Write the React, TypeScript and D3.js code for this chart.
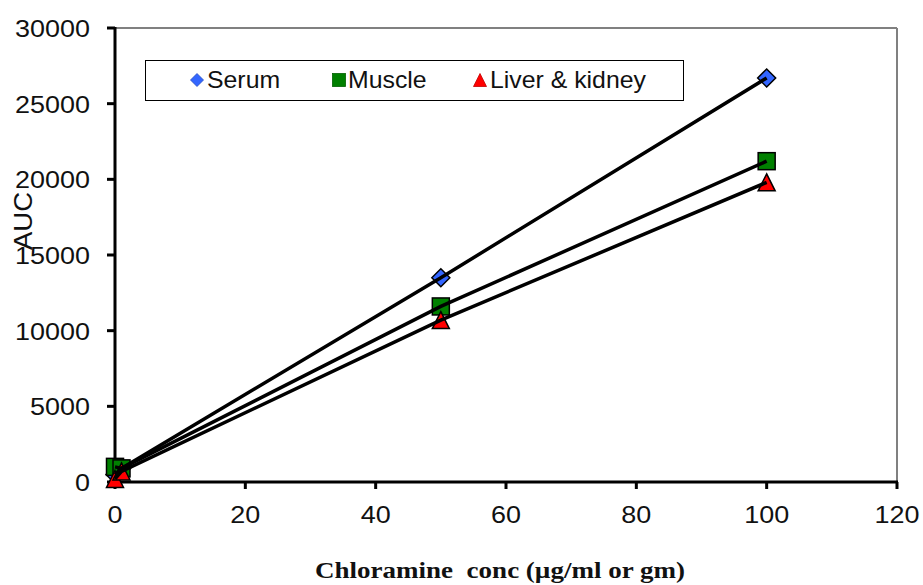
import React from 'react'
import * as d3 from "d3";

const concentrations = [0, 1, 50, 100]
const serumAUC = [500, 900, 13500, 26700]
const muscleAUC = [1000, 900, 11600, 21200]
const liverAUC = [200, 700, 10700, 19800]
const seriesNames = ["Serum", "Muscle", "Liver & kidney"]
const xTicks = [0, 20, 40, 60, 80, 100, 120]
const yTicks = [0, 5000, 10000, 15000, 20000, 25000, 30000]

interface Series {
  name: string;
  values: number[];
  color: string;
  shape: "diamond" | "square" | "triangle";
}

const series: Series[] = [
  { name: seriesNames[0], values: serumAUC, color: "#3366ff", shape: "diamond" },
  { name: seriesNames[1], values: muscleAUC, color: "#008000", shape: "square" },
  { name: seriesNames[2], values: liverAUC, color: "#ff0000", shape: "triangle" },
]

const Marker = ({ shape, x, y, size, fill, stroke, strokeWidth }: {
  shape: string; x: number; y: number; size: number; fill: string; stroke: string; strokeWidth: number
}) => {
  const h = size / 2
  if (shape === "diamond") {
    return <path d={`M${x},${y - h}L${x + h},${y}L${x},${y + h}L${x - h},${y}Z`} fill={fill} stroke={stroke} strokeWidth={strokeWidth} />
  }
  if (shape === "square") {
    return <rect x={x - h} y={y - h} width={size} height={size} fill={fill} stroke={stroke} strokeWidth={strokeWidth} />
  }
  return <path d={`M${x},${y - h}L${x + h},${y + h}L${x - h},${y + h}Z`} fill={fill} stroke={stroke} strokeWidth={strokeWidth} />
}

// the original's text is a bit wider than Arial, so stretch it horizontally
const Stretched = ({ x, y, anchor, size, sx, family, weight, children }: {
  x: number; y: number; anchor: string; size: number; sx: number; family: string; weight?: string; children: React.ReactNode
}) => (
  <text transform={`translate(${x},${y}) scale(${sx},1)`} textAnchor={anchor} fontFamily={family}
    fontSize={size} fontWeight={weight ?? "normal"} fill="#111" style={{ whiteSpace: "pre" }}>{children}</text>
)

export default function App() {
  const width = 923
  const height = 585
  const plot = { left: 115, right: 897, top: 28, bottom: 482 }

  const xScale = d3.scaleLinear().domain([0, 120]).range([plot.left, plot.right])
  const yScale = d3.scaleLinear().domain([0, 30000]).range([plot.bottom, plot.top])

  const line = d3.line<number>()
    .x((_, i) => xScale(concentrations[i]))
    .y(d => yScale(d))

  const font = "'Liberation Sans', Arial, sans-serif"

  // legend layout
  const legendItems = [
    { marker: 197, text: 207 },
    { marker: 339, text: 348 },
    { marker: 480, text: 490 },
  ]

  return (
    <svg width={width} height={height} style={{ position: "absolute", left: 0, top: 0 }}>
      <rect x={0} y={0} width={width} height={height} fill="#fff" />

      {/* top / right frame */}
      <line x1={plot.left} x2={plot.right} y1={plot.top} y2={plot.top} stroke="#808080" strokeWidth={2} />
      <line x1={plot.right} x2={plot.right} y1={plot.top} y2={plot.bottom} stroke="#808080" strokeWidth={2} />

      {/* y axis */}
      <line x1={plot.left} x2={plot.left} y1={plot.top - 1} y2={plot.bottom + 1.5} stroke="#000" strokeWidth={3} />
      {yTicks.map(t => (
        <g key={t}>
          <line x1={plot.left - 8} x2={plot.left} y1={yScale(t)} y2={yScale(t)} stroke="#000" strokeWidth={3} />
          <Stretched x={90} y={yScale(t) + 9} anchor="end" size={24.5} sx={1.1} family={font}>{t}</Stretched>
        </g>
      ))}

      {/* x axis */}
      <line x1={plot.left - 1.5} x2={plot.right + 1} y1={plot.bottom} y2={plot.bottom} stroke="#000" strokeWidth={3} />
      {xTicks.map(t => (
        <g key={t}>
          <line x1={xScale(t)} x2={xScale(t)} y1={plot.bottom} y2={plot.bottom + 7} stroke="#000" strokeWidth={3} />
          <Stretched x={xScale(t)} y={523} anchor="middle" size={24.5} sx={1.1} family={font}>{t}</Stretched>
        </g>
      ))}

      {/* markers */}
      {series.map(s => s.values.map((v, i) => (
        <Marker key={s.name + i} shape={s.shape} x={xScale(concentrations[i])} y={yScale(v)}
          size={s.shape === "diamond" ? 18 : 17} fill={s.color} stroke="#000" strokeWidth={1.5} />
      )))}

      {/* lines */}
      {series.map(s => (
        <path key={s.name} d={line(s.values) ?? ""} fill="none" stroke="#000" strokeWidth={3.5} />
      ))}

      {/* legend */}
      <rect x={145.5} y={60.5} width={538} height={40} fill="#fff" stroke="#000" strokeWidth={1} />
      {series.map((s, i) => (
        <g key={s.name}>
          <Marker shape={s.shape} x={legendItems[i].marker} y={80} size={13}
            fill={s.color} stroke={d3.color(s.color)!.darker(0.8).toString()} strokeWidth={0.8} />
          <Stretched x={legendItems[i].text} y={88} anchor="start" size={23} sx={1.08} family={font}>{s.name}</Stretched>
        </g>
      ))}

      {/* axis titles */}
      <text transform="translate(32,221) rotate(-90) scale(1.1,1)" textAnchor="middle" fontFamily={font} fontSize={25} fill="#111">AUC</text>
      <Stretched x={500} y={578} anchor="middle" size={23.5} sx={1.15}
        family="'Liberation Serif', 'Times New Roman', serif" weight="bold">{"Chloramine  conc (µg/ml or gm)"}</Stretched>
    </svg>
  )
}
